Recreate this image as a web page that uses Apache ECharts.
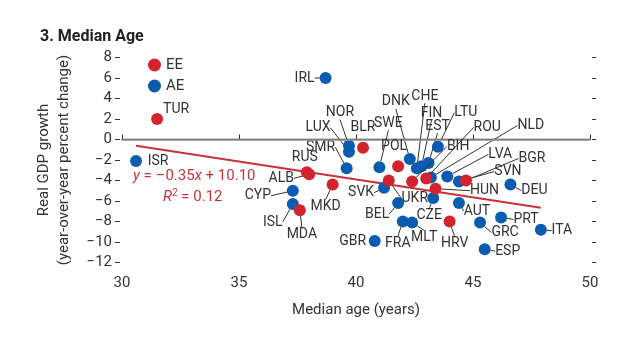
<!DOCTYPE html>
<html><head><meta charset="utf-8">
<script src="https://cdn.jsdelivr.net/npm/echarts@6/dist/echarts.min.js"></script>
<style>html,body{margin:0;padding:0;background:#fff}#c{width:640px;height:337px}</style>
</head><body><div id="c"></div>
<script>
// ---- data ----
const eeNames  = ['TUR','RUS','ALB','MDA','MKD','BLR','POL','UKR','BIH','ROU','HUN','BGR','HRV'];
const eeAge    = [31.5, 37.9, 38.0, 37.6, 39.0, 40.3, 41.8, 41.4, 42.4, 43.0, 43.4, 44.7, 44.0];
const eeGrowth = [2.0, -3.2, -3.4, -6.9, -4.4, -0.8, -2.6, -4.0, -4.1, -3.8, -4.8, -4.0, -8.0];

const aeNames  = ['ISR','CYP','ISL','IRL','NOR','LUX','SMR','SWE','SVK','GBR','BEL','FRA','MLT','DNK','CHE','FIN','EST','LTU','NLD','LVA','SVN','CZE','AUT','DEU','PRT','GRC','ESP','ITA'];
const aeAge    = [30.6, 37.3, 37.3, 38.7, 39.7, 39.7, 39.6, 41.0, 41.2, 40.8, 41.8, 42.0, 42.4, 42.3, 42.6, 42.8, 43.1, 43.5, 43.2, 43.9, 44.4, 43.3, 44.4, 46.6, 46.2, 45.3, 45.5, 47.9];
const aeGrowth = [-2.1, -5.0, -6.3, 6.0, -0.6, -1.2, -2.8, -2.7, -4.7, -9.9, -6.2, -8.0, -8.1, -1.9, -2.8, -2.6, -2.3, -0.7, -3.7, -3.6, -4.1, -5.7, -6.2, -4.4, -7.6, -8.1, -10.7, -8.8];

const xTicks = [30, 35, 40, 45, 50];
const yTicks = [-12, -10, -8, -6, -4, -2, 0, 2, 4, 6, 8];
const regSlope = -0.35, regIntercept = 10.10, regXRange = [30.6, 47.9];
const seriesNames = ['EE', 'AE'];

// ---- label layout (pixel offsets of label centre from its point) ----
const labelOffset = {
  TUR:[19,-10], RUS:[-2,-15], ALB:[-28,4], MDA:[2,24], MKD:[-7,22], BLR:[0,-20], POL:[-4,-20],
  UKR:[26,18], BIH:[46,-35], ROU:[61,-51], HUN:[49,2], BGR:[66,-22], HRV:[5,22],
  ISR:[22,0], CYP:[-35,5], ISL:[-20,18], IRL:[-21,0], NOR:[-9,-33], LUX:[-31,-24], SMR:[-26,-21],
  SWE:[9,-44], SVK:[-23,5], GBR:[-22,1], BEL:[-21,11], FRA:[-5,22], MLT:[12,15], DNK:[-14,-57],
  CHE:[8,-72], FIN:[10,-53], EST:[9,-37], LTU:[28,-34], NLD:[100,-52], LVA:[53,-22], SVN:[49,-10],
  CZE:[-4,18], AUT:[18,8], DEU:[24,6], PRT:[25,2], GRC:[25,10], ESP:[23,2], ITA:[21,1]
};
const noLine = ['TUR','ISR','RUS','BLR','POL','GBR'];

const FONT = "'Liberation Sans Narrow','Arial Narrow','Roboto',sans-serif";
const RED = '#d3232c', BLUE = '#0b5cb0', TXT = '#333';

function mk(names, ages, growth) {
  return names.map((n, i) => ({
    name: n, value: [ages[i], growth[i]],
    labelLine: { show: noLine.indexOf(n) < 0 }
  }));
}
function layoutFor(names) {
  return function (p) {
    const o = labelOffset[names[p.dataIndex]] || [0, 0];
    return { dx: o[0], dy: o[1] };
  };
}
const labelCfg = { show: true, position: 'inside', formatter: '{b}', color: TXT, fontSize: 14, fontFamily: FONT };
const lineCfg = { show: true, lineStyle: { color: '#333', width: 1 } };

const chart = echarts.init(document.getElementById('c'), null, { renderer: 'canvas' });
chart.setOption({
  animation: false,
  backgroundColor: '#fff',
  textStyle: { fontFamily: FONT },
  title: { text: '3. Median Age', left: 35, top: 24, textStyle: { fontFamily: FONT, fontSize: 16, fontWeight: 'bold', color: '#222' } },
  legend: {
    data: seriesNames, orient: 'vertical', left: 143, top: 52, icon: 'circle',
    itemWidth: 13, itemHeight: 13, itemGap: 5,
    textStyle: { fontFamily: FONT, fontSize: 15, color: TXT, lineHeight: 16 }
  },
  grid: { left: 122, right: 50, top: 57.5, bottom: 74.5 },
  xAxis: {
    type: 'value', min: xTicks[0], max: xTicks[xTicks.length - 1], interval: 5,
    name: 'Median age (years)', nameLocation: 'middle', nameGap: 40,
    nameTextStyle: { fontFamily: FONT, fontSize: 15, color: TXT },
    axisLine: { lineStyle: { color: '#333', width: 1.3 } },
    axisTick: { inside: true, length: 5, lineStyle: { color: '#333' } },
    axisLabel: { fontFamily: FONT, fontSize: 15, color: TXT, margin: 13 },
    splitLine: { show: false }
  },
  yAxis: [{
    type: 'value', min: yTicks[0], max: yTicks[yTicks.length - 1], interval: 2, offset: 2,
    name: 'Real GDP growth\n(year-over-year percent change)', nameLocation: 'middle', nameGap: 46,
    nameTextStyle: { fontFamily: FONT, fontSize: 15, color: TXT, lineHeight: 20 },
    axisLine: { show: false },
    axisTick: { show: true, length: 5, lineStyle: { color: '#333' } },
    axisLabel: { fontFamily: FONT, fontSize: 15, color: TXT, margin: 8,
      formatter: v => v < 0 ? '\u2212' + Math.abs(v) : String(v) },
    splitLine: { show: false }
  }, {
    type: 'value', position: 'right', min: yTicks[0], max: yTicks[yTicks.length - 1], interval: 2, offset: 2,
    axisLine: { show: false }, axisTick: { show: true, length: 4, lineStyle: { color: '#333' } },
    axisLabel: { show: false }, splitLine: { show: false }
  }],
  series: [
    {
      name: 'zero', type: 'line', data: [], silent: true,
      markLine: { symbol: 'none', silent: true, label: { show: false },
        lineStyle: { color: '#9a9a9a', width: 1.5, type: 'solid' }, data: [{ yAxis: 0 }] }
    },
    {
      name: 'fit', type: 'line', silent: true, symbol: 'none', z: 3,
      lineStyle: { color: '#c8333a', width: 2 },
      data: regXRange.map(x => [x, regSlope * x + regIntercept])
    },
    {
      name: 'EE', type: 'scatter', symbolSize: 12, z: 5,
      itemStyle: { color: RED, opacity: 1 },
      label: labelCfg, labelLine: lineCfg, labelLayout: layoutFor(eeNames),
      data: mk(eeNames, eeAge, eeGrowth)
    },
    {
      name: 'AE', type: 'scatter', symbolSize: 12, z: 4,
      itemStyle: { color: BLUE, opacity: 1 },
      label: labelCfg, labelLine: lineCfg, labelLayout: layoutFor(aeNames),
      data: mk(aeNames, aeAge, aeGrowth)
    }
  ],
  graphic: [
    { type: 'text', left: 133, top: 169, z: 10,
      style: { text: '{i|y} = \u20130.35{i|x} + 10.10', fill: '#c8333a', font: '15px ' + FONT,
        rich: { i: { fontStyle: 'italic', fontSize: 15, fontFamily: FONT, fill: '#c8333a' } } } },
    { type: 'text', left: 163, top: 188, z: 10,
      style: { text: '{i|R}{s|2} = 0.12', fill: '#c8333a', font: '15px ' + FONT,
        rich: { i: { fontStyle: 'italic', fontSize: 15, fontFamily: FONT, fill: '#c8333a' },
                s: { fontSize: 10, fontFamily: FONT, fill: '#c8333a', padding: [0, 0, 8, 0] } } } }
  ]
});
</script></body></html>
